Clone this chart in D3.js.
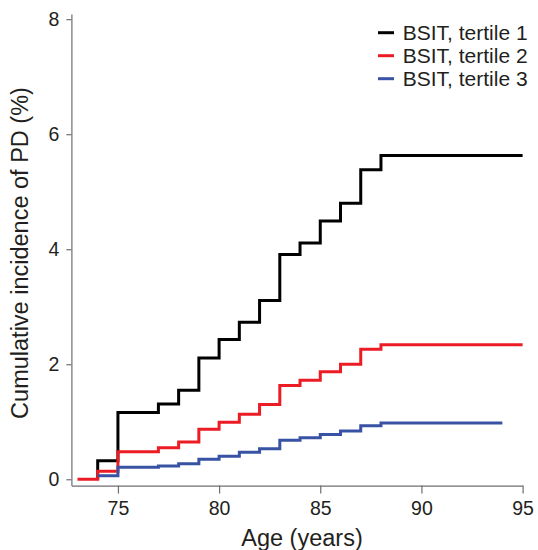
<!DOCTYPE html>
<html>
<head>
<meta charset="utf-8">
<script src="https://cdn.jsdelivr.net/npm/d3@7"></script>
<style>
  body { margin: 0; background: #fff; }
  svg { display: block; font-family: "Liberation Sans", Arial, Helvetica, sans-serif; }
  .axis path, .axis line { stroke: #6d6e71; stroke-width: 1.2; }
  .axis text { fill: #231f20; font-size: 19.5px; }
</style>
</head>
<body>
<svg id="chart"></svg>
<script>
// ages where the curves step, and the cumulative incidence (%) from that age on
const ages = [74, 75, 77, 78, 79, 80, 81, 82, 83, 84, 85, 86, 87, 88, 95]
const agesT2 = [73, 74, 75, 77, 78, 79, 80, 81, 82, 83, 84, 85, 86, 87, 88, 95]
const agesT3 = [74, 75, 77, 78, 79, 80, 81, 82, 83, 84, 85, 86, 87, 88, 94]
const tertile1 = [0.32, 1.16, 1.31, 1.55, 2.11, 2.43, 2.73, 3.11, 3.91, 4.11, 4.49, 4.80, 5.38, 5.63, 5.63]
const tertile2 = [0, 0.14, 0.48, 0.55, 0.65, 0.87, 0.99, 1.13, 1.30, 1.63, 1.72, 1.87, 2.00, 2.26, 2.34, 2.34]
const tertile3 = [0.06, 0.21, 0.23, 0.27, 0.35, 0.40, 0.47, 0.53, 0.68, 0.72, 0.78, 0.84, 0.93, 0.98, 0.98]
const seriesNames = ['BSIT, tertile 1', 'BSIT, tertile 2', 'BSIT, tertile 3']
const colors = ['#000000', '#ec1c24', '#3953a4']
const xTicks = [75, 80, 85, 90, 95]
const yTicks = [0, 2, 4, 6, 8]

const width = 538, height = 550;

const svg = d3.select('#chart')
    .attr('width', width)
    .attr('height', height)

const x = d3.scaleLinear().domain([72.7, 95]).range([71.4, 522.6])
const y = d3.scaleLinear().domain([-0.11, 8.09]).range([485.6, 14])

svg.append('g')
    .attr('class', 'axis')
    .attr('transform', `translate(0, ${y(-0.11)})`)
    .call(d3.axisBottom(x).tickValues(xTicks).tickSize(8).tickSizeOuter(0).tickPadding(8))

svg.append('g')
    .attr('class', 'axis')
    .attr('transform', `translate(${x(72.7)}, 0)`)
    .call(d3.axisLeft(y).tickValues(yTicks).tickSize(5).tickSizeOuter(0).tickPadding(7))

svg.selectAll('.axis').attr('font-family', null).attr('font-size', null)

const series = [
    ages.map((a, i) => ({ age: a, v: tertile1[i] })),
    agesT2.map((a, i) => ({ age: a, v: tertile2[i] })),
    agesT3.map((a, i) => ({ age: a, v: tertile3[i] }))
]

const line = d3.line()
    .x(d => x(d.age))
    .y(d => y(d.v))
    .curve(d3.curveStepAfter)

// black start at 74 from zero
series[0].unshift({ age: 74, v: 0 })

svg.selectAll('.curve')
    .data(series)
    .enter()
    .append('path')
    .attr('class', 'curve')
    .attr('d', line)
    .attr('fill', 'none')
    .attr('stroke', (d, i) => colors[i])
    .attr('stroke-width', 3)

// legend
const legend = svg.append('g')
    .selectAll('g')
    .data(seriesNames)
    .enter()
    .append('g')
    .attr('transform', (d, i) => `translate(378, ${39.5 + i * 23})`)

legend.append('line')
    .attr('x1', 0).attr('x2', 16)
    .attr('y1', -6.8).attr('y2', -6.8)
    .attr('stroke', (d, i) => colors[i])
    .attr('stroke-width', 3)

legend.append('text')
    .attr('x', 24.7)
    .text(d => d)
    .attr('fill', '#231f20')
    .style('font-size', '21px')

svg.append('text')
    .text('Age (years)')
    .attr('text-anchor', 'middle')
    .attr('fill', '#231f20')
    .attr('transform', `translate(302, 546)`)
    .style('font-size', '23.5px')

svg.append('text')
    .text('Cumulative incidence of PD (%)')
    .attr('text-anchor', 'middle')
    .attr('fill', '#231f20')
    .attr('transform', `translate(28, 253)rotate(-90)`)
    .style('font-size', '23.5px')
</script>
</body>
</html>
